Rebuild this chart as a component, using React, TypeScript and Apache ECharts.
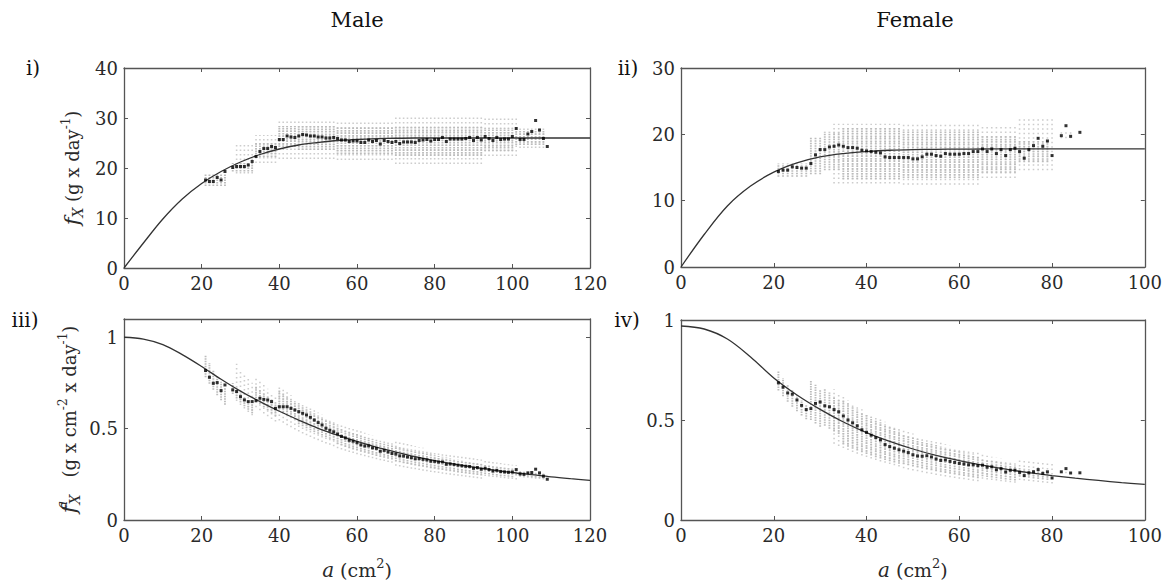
import React, { useEffect, useRef } from "react";
import * as echarts from "echarts";

const FONT = "'DejaVu Serif', 'Liberation Serif', serif";

// ---- mean values (black points) ----
const maleMeanX = [21,22,23,24,25,26,28,29,30,31,32,33,34,35,36,37,38,39,40,41,42,43,44,45,46,47,48,49,50,51,52,53,54,55,56,57,58,59,60,61,62,63,64,65,66,67,68,69,70,71,72,73,74,75,76,77,78,79,80,81,82,83,84,85,86,87,88,89,90,91,92,93,94,95,96,97,98,99,100,101,102,103,104,105,106,107,108,109];
const maleMeanF = [
  17.6,17.3,17.3,18.1,17.6,19.3,
  20.1,20.3,20.3,20.3,20.6,21.3,22.3,23.3,23.9,23.9,24.3,24.1,
  25.7,25.7,26.4,26.2,26.1,26.4,26.7,26.6,26.4,26.4,
  26.2,26.2,26.0,26.0,26.1,25.9,25.6,25.6,25.3,25.4,
  25.4,25.1,25.1,25.6,25.3,25.5,24.8,25.5,25.3,25.1,
  25.3,24.9,25.2,25.2,25.2,25.1,25.5,25.6,25.7,25.4,
  25.7,25.7,26.1,25.3,25.8,25.8,25.8,25.8,25.9,26.1,
  25.5,26.1,25.6,26.3,25.9,25.5,26.1,25.7,25.8,25.8,
  26.3,27.9,25.7,25.7,26.8,27.3,29.5,27.6,25.9,24.3
];
const maleMeanFa = [
  0.818,0.781,0.748,0.752,0.708,0.739,
  0.712,0.703,0.675,0.657,0.648,0.648,0.653,0.666,0.66,0.657,0.648,0.611,
  0.62,0.62,0.62,0.611,0.602,0.593,0.584,0.575,0.562,0.547,
  0.533,0.52,0.502,0.491,0.483,0.471,0.457,0.449,0.436,0.431,
  0.423,0.411,0.405,0.406,0.395,0.392,0.376,0.381,0.372,0.364,
  0.361,0.351,0.35,0.345,0.341,0.335,0.336,0.332,0.329,0.322,
  0.321,0.317,0.318,0.305,0.307,0.304,0.3,0.297,0.294,0.293,
  0.283,0.287,0.278,0.283,0.276,0.268,0.272,0.265,0.263,0.261,
  0.263,0.276,0.252,0.25,0.258,0.26,0.278,0.258,0.24,0.223
];
const femaleMeanX = [21,22,23,24,25,26,27,28,29,30,31,32,33,34,35,36,37,38,39,40,41,42,43,44,45,46,47,48,49,50,51,52,53,54,55,56,57,58,59,60,61,62,63,64,65,66,67,68,69,70,71,72,73,74,75,76,77,78,79,80,82,83,84,86];
const femaleMeanF = [
  14.4,14.6,14.6,15.1,15.0,14.9,14.9,15.6,16.9,
  17.7,17.7,18.1,18.2,18.4,18.2,18.0,18.0,17.9,17.6,
  17.5,17.4,17.3,17.2,16.6,16.5,16.5,16.5,16.5,16.5,
  16.3,16.3,16.6,17.0,17.0,16.8,16.7,17.1,17.0,17.0,
  17.0,17.1,17.1,17.4,17.4,17.8,17.4,17.8,17.1,17.7,
  16.8,17.7,17.9,17.4,16.4,17.7,18.3,19.4,18.2,19.0,
  16.8,19.8,21.3,19.7,20.3
];
const femaleMeanFa = [
  0.686,0.664,0.635,0.629,0.6,0.573,0.552,0.557,0.583,
  0.59,0.571,0.566,0.552,0.541,0.52,0.5,0.486,0.471,0.451,
  0.438,0.424,0.412,0.4,0.377,0.367,0.359,0.351,0.344,0.337,
  0.326,0.32,0.319,0.321,0.315,0.305,0.298,0.3,0.293,0.288,
  0.283,0.28,0.276,0.276,0.272,0.274,0.264,0.266,0.251,0.257,
  0.24,0.249,0.249,0.238,0.222,0.236,0.241,0.252,0.233,0.241,
  0.21,0.241,0.257,0.235,0.236
];

// ---- fitted curves ----
const maleCurveX = [0,5,10,15,20,25,30,35,40,45,50,55,60,65,70,75,80,85,90,95,100,105,110,115,120];
const maleCurveF = [0,5.0,9.8,13.8,16.9,19.3,21.2,22.7,23.8,24.6,25.1,25.5,25.7,25.85,25.95,26,26,26,26,26,26,26,26,26,26];
const maleCurveFa = [1.0,0.99,0.96,0.905,0.84,0.77,0.705,0.648,0.595,0.547,0.502,0.464,0.43,0.399,0.372,0.347,0.325,0.306,0.289,0.274,0.26,0.248,0.236,0.226,0.217];
const femaleCurveX = [0,5,10,15,20,25,30,35,40,45,50,55,60,65,70,75,80,85,90,95,100];
const femaleCurveF = [0,4.9,9.2,12.2,14.3,15.7,16.6,17.1,17.4,17.6,17.7,17.74,17.77,17.79,17.8,17.8,17.8,17.8,17.8,17.8,17.8];
const femaleCurveFa = [0.97,0.955,0.905,0.815,0.71,0.625,0.553,0.49,0.437,0.393,0.355,0.323,0.297,0.274,0.254,0.237,0.222,0.209,0.198,0.187,0.178];

// ---- grey individual-value clouds: [fromX, toX, low f, high f] ----
const maleCoreSpans = [
  [21,26,16.4,18.9],[28,33,19.3,21.0],[34,39,22.2,25.0],[40,44,24.2,28.4],
  [45,54,23.6,28.6],[55,69,22.8,28.2],[70,92,22.4,28.4],[93,100,23.4,28.0],[101,108,24.6,27.4]
];
const maleOuterSpans = [
  [29,33,18.9,24.8],[34,39,21.0,26.6],[40,54,21.8,29.4],[55,69,21.6,29.6],
  [70,92,20.8,30.4],[93,101,22.4,30.2],[102,108,24.0,28.0]
];
const femaleCoreSpans = [
  [21,27,13.6,15.6],[28,30,14.0,19.6],[31,34,14.6,20.4],[35,47,13.2,21.0],
  [48,64,13.4,20.6],[65,72,14.2,19.8],[73,79,15.8,19.0]
];
const femaleOuterSpans = [
  [33,47,12.6,21.6],[48,64,12.4,21.6],[65,72,13.4,21.2],[73,80,14.6,22.4],[82,84,19.4,20.6]
];

const xTicksMale = { min: 0, max: 120, interval: 20 };
const xTicksFemale = { min: 0, max: 100, interval: 20 };

function expandSpans(spans: number[][], perArea: boolean) {
  const out: number[][] = [];
  spans.forEach(([a, b, lo, hi]) => {
    for (let x = a; x <= b; x++) {
      out.push(perArea ? [x, lo / x, hi / x] : [x, lo, hi]);
    }
  });
  return out;
}
function pairs(xs: number[], ys: number[]) {
  return xs.map((x, i) => [x, ys[i]]);
}

const AX = "#555";
const TXT = "#2a2a2a";

const rich = {
  f: { fontFamily: FONT, fontStyle: "italic", fontSize: 21, color: TXT, lineHeight: 32, verticalAlign: "middle" },
  sub: { fontFamily: FONT, fontStyle: "italic", fontSize: 14, color: TXT, lineHeight: 32, verticalAlign: "bottom", padding: [0, 0, 3, 0] },
  sup: { fontFamily: FONT, fontSize: 12, color: TXT, lineHeight: 32, verticalAlign: "top", padding: [4, 0, 0, 0] },
  supa: { fontFamily: FONT, fontStyle: "italic", fontSize: 14, color: TXT, lineHeight: 32, verticalAlign: "top", padding: [2, 0, 0, 0], width: 1 },
  t: { fontFamily: FONT, fontSize: 18, color: TXT, lineHeight: 32, verticalAlign: "middle" },
  a: { fontFamily: FONT, fontStyle: "italic", fontSize: 20, color: TXT, lineHeight: 30, verticalAlign: "middle" },
  tx: { fontFamily: FONT, fontSize: 19, color: TXT, lineHeight: 30, verticalAlign: "middle" },
  supx: { fontFamily: FONT, fontSize: 13, color: TXT, lineHeight: 30, verticalAlign: "top", padding: [2, 0, 0, 0] },
};

function cloudSeries(data: number[][], gi: number, core: boolean) {
  return {
    type: "custom",
    xAxisIndex: gi * 2,
    yAxisIndex: gi * 2,
    data,
    encode: { x: 0, y: [1, 2] },
    silent: true,
    z: core ? 2 : 1,
    renderItem: (params: any, api: any) => {
      const x = api.value(0);
      const p1 = api.coord([x, api.value(1)]);
      const p2 = api.coord([x, api.value(2)]);
      return {
        type: "line",
        shape: { x1: p1[0], y1: p1[1], x2: p2[0], y2: p2[1] },
        style: core
          ? { stroke: "#bcbcbc", lineWidth: 1.9, lineDash: [1.5, 1.0] }
          : { stroke: "#cdcdcd", lineWidth: 1.6, lineDash: [1.5, 3.0] },
      };
    },
  };
}

function App() {
  const ref = useRef<HTMLDivElement>(null);
  useEffect(() => {
    if (!ref.current) return;
    const chart = echarts.init(ref.current, null, { renderer: "svg" });

    const grids = [
      { left: 124, top: 68, width: 466, height: 200 },
      { left: 681, top: 68, width: 465, height: 199 },
      { left: 124, top: 319, width: 466, height: 201 },
      { left: 681, top: 320, width: 465, height: 200 },
    ];
    const xCfg = [xTicksMale, xTicksFemale, xTicksMale, xTicksFemale];
    const yCfg = [
      { min: 0, max: 40, interval: 10 },
      { min: 0, max: 30, interval: 10 },
      { min: 0, max: 1.1, interval: 0.5 },
      { min: 0, max: 1, interval: 0.5 },
    ];
    const lineStyle = { color: AX, width: 1.3 };
    const tick = { show: true, inside: true, length: 4, lineStyle: { color: AX, width: 1 } };
    const label = { color: TXT, fontFamily: FONT, fontSize: 18 };

    const xAxes: any[] = [];
    const yAxes: any[] = [];
    for (let g = 0; g < 4; g++) {
      const bottomName = g >= 2 ? "{a|a}{tx| (cm}{supx|2}{tx|)}" : "";
      xAxes.push({
        gridIndex: g, type: "value", position: "bottom", ...xCfg[g],
        axisLine: { show: true, onZero: false, lineStyle },
        axisTick: tick,
        axisLabel: { ...label, margin: 6 },
        splitLine: { show: false },
        name: bottomName, nameLocation: "middle", nameGap: 35,
        nameTextStyle: { fontFamily: FONT, fontSize: 18, color: TXT, rich },
      });
      xAxes.push({
        gridIndex: g, type: "value", position: "top", ...xCfg[g],
        axisLine: { show: true, onZero: false, lineStyle },
        axisTick: tick, axisLabel: { show: false }, splitLine: { show: false },
      });
      let yName = "";
      if (g === 0) yName = "{f|f}{sub|X}{t| (g x day}{sup|-1}{t|)}";
      if (g === 2) yName = "{f|f}{supa|a}{sub|X}{t|   (g x cm}{sup|-2}{t| x day}{sup|-1}{t|)}";
      yAxes.push({
        gridIndex: g, type: "value", position: "left", ...yCfg[g],
        axisLine: { show: true, onZero: false, lineStyle },
        axisTick: tick,
        axisLabel: { ...label, margin: 6, showMaxLabel: g === 2 ? false : true },
        splitLine: { show: false },
        name: yName, nameLocation: "middle", nameRotate: 90, nameGap: g === 0 ? 36 : 33,
        nameTextStyle: { fontFamily: FONT, fontSize: 18, color: TXT, rich },
      });
      yAxes.push({
        gridIndex: g, type: "value", position: "right", ...yCfg[g],
        axisLine: { show: true, onZero: false, lineStyle },
        axisTick: tick, axisLabel: { show: false }, splitLine: { show: false },
      });
    }

    const panels = [
      { core: expandSpans(maleCoreSpans, false), outer: expandSpans(maleOuterSpans, false), curve: pairs(maleCurveX, maleCurveF), mean: pairs(maleMeanX, maleMeanF) },
      { core: expandSpans(femaleCoreSpans, false), outer: expandSpans(femaleOuterSpans, false), curve: pairs(femaleCurveX, femaleCurveF), mean: pairs(femaleMeanX, femaleMeanF) },
      { core: expandSpans(maleCoreSpans, true), outer: expandSpans(maleOuterSpans, true), curve: pairs(maleCurveX, maleCurveFa), mean: pairs(maleMeanX, maleMeanFa) },
      { core: expandSpans(femaleCoreSpans, true), outer: expandSpans(femaleOuterSpans, true), curve: pairs(femaleCurveX, femaleCurveFa), mean: pairs(femaleMeanX, femaleMeanFa) },
    ];

    const series: any[] = [];
    panels.forEach((p, g) => {
      series.push(cloudSeries(p.outer, g, false));
      series.push(cloudSeries(p.core, g, true));
      series.push({
        type: "line", xAxisIndex: g * 2, yAxisIndex: g * 2, data: p.curve,
        smooth: 0.35, showSymbol: false, symbol: "none", z: 3,
        lineStyle: { color: "#333", width: 1.3 }, silent: true,
      });
      series.push({
        type: "scatter", xAxisIndex: g * 2, yAxisIndex: g * 2, data: p.mean,
        symbol: "rect", symbolSize: 3, z: 4,
        itemStyle: { color: "#000" }, silent: true,
      });
    });

    const txt = (text: string, x: number, y: number, size: number) => ({
      type: "text", x, y, silent: true,
      style: {
        text, fill: "#111", fontFamily: FONT, fontSize: size,
        align: "center", verticalAlign: "middle",
        textAlign: "center", textVerticalAlign: "middle",
      },
    });

    chart.setOption({
      animation: false,
      backgroundColor: "#fff",
      grid: grids.map((g) => ({ ...g, containLabel: false })),
      xAxis: xAxes,
      yAxis: yAxes,
      series,
      graphic: [
        txt("Male", 357, 20, 21),
        txt("Female", 915, 20, 21),
        txt("i)", 33, 68, 20),
        txt("ii)", 628, 68, 20),
        txt("iii)", 25, 320, 20),
        txt("iv)", 627, 320, 20),
      ],
    });
    return () => chart.dispose();
  }, []);
  return <div ref={ref} style={{ position: "absolute", left: 0, top: 0, width: 1165, height: 583 }} />;
}

export default App;
